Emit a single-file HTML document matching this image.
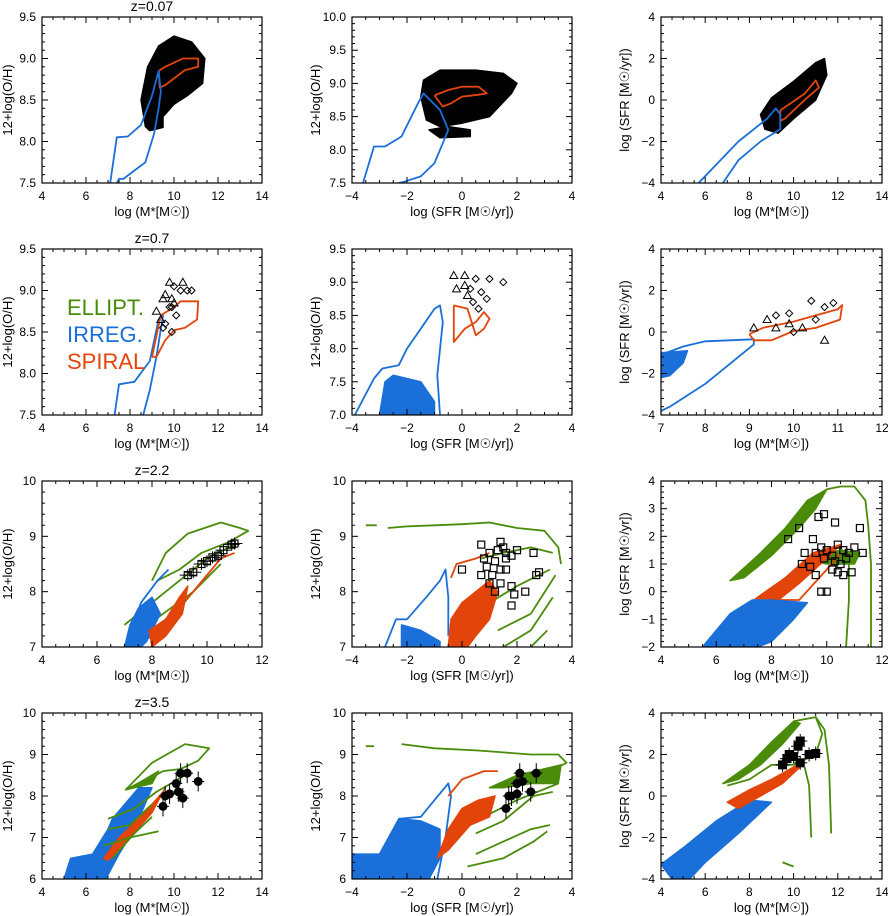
<!DOCTYPE html>
<html><head><meta charset="utf-8"><style>
html,body{margin:0;padding:0;background:#fff;}
svg{display:block;font-family:"Liberation Sans",sans-serif;}
</style></head><body>
<svg id="fig" width="888" height="916" viewBox="0 0 888 916" xmlns="http://www.w3.org/2000/svg"></svg>
<script>
// ===== data (data coordinates) =====
const rangesX = [[4,14],[-4,4],[4,14],[4,14],[-4,4],[7,12],[4,12],[-4,4],[4,12],[4,14],[-4,4],[4,14]];
const rangesY = [[7.5,9.5],[7.5,10],[-4,4],[7.5,9.5],[7,9.5],[-4,4],[7,10],[7,10],[-2,4],[6,10],[6,10],[-4,4]];
const xTicks = [[4,6,8,10,12,14],[-4,-2,0,2,4],[4,6,8,10,12,14],[4,6,8,10,12,14],[-4,-2,0,2,4],[7,8,9,10,11,12],[4,6,8,10,12],[-4,-2,0,2,4],[4,6,8,10,12],[4,6,8,10,12,14],[-4,-2,0,2,4],[4,6,8,10,12,14]];
const yTicks = [[7.5,8.0,8.5,9.0,9.5],[7.5,8.0,8.5,9.0,9.5,10.0],[-4,-2,0,2,4],[7.5,8.0,8.5,9.0,9.5],[7.0,7.5,8.0,8.5,9.0,9.5],[-4,-2,0,2,4],[7,8,9,10],[7,8,9,10],[-2,-1,0,1,2,3,4],[6,7,8,9,10],[6,7,8,9,10],[-4,-2,0,2,4]];
const yDecimals = [1,1,0,1,1,0,0,0,0,0,0,0];
const xTitles = ["log (M*[M\u2609])","log (SFR [M\u2609/yr])","log (M*[M\u2609])","log (M*[M\u2609])","log (SFR [M\u2609/yr])","log (M*[M\u2609])","log (M*[M\u2609])","log (SFR [M\u2609/yr])","log (M*[M\u2609])","log (M*[M\u2609])","log (SFR [M\u2609/yr])","log (M*[M\u2609])"];
const yTitles = ["12+log(O/H)","12+log(O/H)","log (SFR [M\u2609/yr])","12+log(O/H)","12+log(O/H)","log (SFR [M\u2609/yr])","12+log(O/H)","12+log(O/H)","log (SFR [M\u2609/yr])","12+log(O/H)","12+log(O/H)","log (SFR [M\u2609/yr])"];
const redshiftTitles = ["z=0.07","z=0.7","z=2.2","z=3.5"];

const BLK="#000", BLU="#1a6fd8", ORG="#e2440a", GRN="#4a8c0a";
const shapes = [
 [0,'fill',BLK,[[8.7,8.18],[8.5,8.5],[8.8,8.9],[9.3,9.15],[10,9.27],[10.8,9.2],[11.4,9.0],[11.3,8.7],[10.6,8.55],[10,8.45],[9.5,8.3],[9.5,8.17],[8.9,8.13]]],
 [0,'line',ORG,[[9.3,8.85],[9.6,8.9],[10,8.95],[10.4,9.0],[11.1,9.0],[11.1,8.9],[10.5,8.86],[10.0,8.76],[9.6,8.68],[9.35,8.65],[9.3,8.85]]],
 [0,'line',BLU,[[7.1,7.5],[7.4,8.05],[7.9,8.06],[8.5,8.2],[9.0,8.55],[9.3,8.85],[9.4,8.6],[9.3,8.4],[9.1,8.1],[8.7,7.75],[8.2,7.65],[7.7,7.55],[7.5,7.55],[7.4,7.5]]],
 [1,'fill',BLK,[[-1.5,8.8],[-1.3,8.45],[-0.8,8.35],[0,8.4],[1,8.5],[1.8,8.85],[2,9.0],[1.5,9.15],[0.5,9.2],[-0.8,9.2],[-1.4,9.05]]],
 [1,'fill',BLK,[[-1.2,8.3],[-0.8,8.18],[0.3,8.2],[0.3,8.3],[-0.5,8.35]]],
 [1,'line',ORG,[[-1.0,8.82],[-0.5,8.9],[0,8.95],[0.6,8.95],[0.9,8.85],[0.6,8.83],[0,8.8],[-0.4,8.7],[-0.7,8.65],[-1.0,8.82]]],
 [1,'line',BLU,[[-3.6,7.5],[-3.2,8.05],[-2.8,8.05],[-2.2,8.2],[-1.6,8.7],[-1.4,8.85],[-0.8,8.6],[-0.5,8.3],[-0.7,8.1],[-1,7.8],[-1.5,7.6],[-2.1,7.52],[-2.3,7.5]]],
 [2,'fill',BLK,[[8.5,-0.7],[9,0.1],[10,0.9],[11,1.8],[11.4,2.0],[11.5,1.2],[11,0],[10,-0.9],[9.3,-1.6],[8.7,-1.4]]],
 [2,'line',ORG,[[9.4,-1.0],[9.4,-0.5],[10.5,0.3],[11,0.95],[11.15,0.6],[10.6,0.1],[9.6,-0.9],[9.4,-1.0]]],
 [2,'line',BLU,[[5.7,-4],[7.5,-2],[8.8,-0.9],[9.2,-0.4],[9.4,-0.7],[9.4,-1.4],[8.5,-2.0],[7.5,-2.9],[6.8,-4]]],
 [3,'line',BLU,[[7.3,7.5],[7.5,7.87],[8.2,7.9],[8.9,8.15],[9.3,8.65],[9.5,8.7],[9.2,8.2],[8.9,7.8],[8.6,7.5]]],
 [3,'line',ORG,[[9.0,8.2],[9.4,8.7],[10,8.8],[10.3,8.87],[11.1,8.87],[11.05,8.65],[10.5,8.55],[10,8.52],[9.6,8.4],[9.2,8.2],[9.0,8.2]]],
 [4,'fill',BLU,[[-3,7],[-2.8,7.5],[-2.5,7.6],[-1.5,7.5],[-1,7.2],[-1,7.0]]],
 [4,'line',BLU,[[-3.9,7.0],[-3.2,7.55],[-2.9,7.7],[-2.3,7.75],[-2,8.0],[-1.5,8.3],[-1,8.6],[-0.8,8.65],[-0.7,8.4],[-0.9,7.6],[-0.8,7.0]]],
 [4,'line',ORG,[[-0.3,8.65],[-0.3,8.1],[0.1,8.3],[0.5,8.4],[0.8,8.55],[1.0,8.45],[0.8,8.3],[0.5,8.2],[0.2,8.6],[-0.3,8.65]]],
 [5,'fill',BLU,[[7,-1.0],[7.6,-0.9],[7.5,-1.5],[7.2,-2.1],[7,-2.2]]],
 [5,'line',BLU,[[7,-1.1],[7.5,-0.7],[8,-0.45],[9.1,-0.35],[9.1,-0.6],[8,-2.5],[7.2,-3.6],[7,-3.8]]],
 [5,'line',ORG,[[9.0,-0.1],[9.3,0.2],[10,0.5],[10.5,0.8],[11,1.1],[11.1,1.3],[11.05,0.6],[10.5,0.2],[10,0.05],[9.5,-0.4],[9.1,-0.4],[9.0,-0.1]]],
 [6,'line',GRN,[[8,8.2],[8.5,8.7],[9.3,9.05],[10.5,9.25],[11.2,9.15],[11.5,9.1],[10.8,8.9],[9.8,8.7],[9,8.4],[8.2,8.2]]],
 [6,'line',GRN,[[7,7.4],[8,7.8],[9,8.2],[10,8.6],[11,8.85]]],
 [6,'line',GRN,[[7.3,7.2],[8.4,7.6],[9.5,8.0],[10.5,8.5]]],
 [6,'line',GRN,[[7.5,7.05],[8.5,7.35],[9,7.7],[10,8.3]]],
 [6,'fill',BLU,[[7,7],[7.2,7.4],[7.5,7.7],[8,7.9],[8.3,7.6],[7.8,7.1],[7.6,7]]],
 [6,'line',BLU,[[7,7],[7.6,7.8],[8.2,8.2],[8.6,8.4]]],
 [6,'fill',ORG,[[7.9,7.3],[8.5,7.5],[9,7.9],[9.3,8.1],[9.1,7.6],[8.5,7.2],[8,7.0]]],
 [6,'line',ORG,[[8.5,7.5],[9.5,8.0],[10.5,8.6],[11,8.7]]],
 [7,'line',GRN,[[-3.5,9.2],[-3.1,9.2]]],
 [7,'line',GRN,[[-2.7,9.15],[-2,9.18],[-1,9.2],[0,9.22],[1,9.25],[2,9.15],[3,9.1],[3.5,8.8],[3.6,8.5]]],
 [7,'line',GRN,[[0.7,8.6],[1.5,8.7],[2.5,8.8],[3.3,8.7]]],
 [7,'line',GRN,[[1,7.8],[2,8.1],[3.2,8.4]]],
 [7,'line',GRN,[[1.3,7.3],[2.5,7.6],[3.4,8.3]]],
 [7,'line',GRN,[[1.5,7.0],[2.5,7.3],[3.3,7.9]]],
 [7,'line',GRN,[[2.5,7.0],[3.1,7.3]]],
 [7,'fill',BLU,[[-2.2,7],[-2.2,7.4],[-1.5,7.3],[-0.8,7.1],[-0.8,7]]],
 [7,'line',BLU,[[-2.8,7],[-2.4,7.5],[-2,7.5],[-1.3,7.9],[-0.8,8.2],[-0.6,8.4],[-0.5,7.9],[-0.5,7.2]]],
 [7,'line',ORG,[[-0.4,8.25],[-0.2,8.5],[0.5,8.6],[1,8.7]]],
 [7,'fill',ORG,[[-0.5,7],[-0.4,7.5],[0,7.8],[0.5,8.0],[1,8.2],[1.3,8.0],[1,7.5],[0.5,7.2],[0.2,7]]],
 [8,'fill',GRN,[[6.5,0.4],[7.5,1.3],[8.5,2.3],[9.3,3.3],[10,3.7],[9.6,3.0],[9,2.3],[8,1.3],[7,0.5]]],
 [8,'fill',GRN,[[9.5,1.3],[10.5,1.5],[11.2,1.4],[11,1.0],[10,1.0],[9.5,1.1]]],
 [8,'line',GRN,[[10,3.7],[10.5,3.8],[11,3.8],[11.4,3.3],[11.5,2.4],[11.6,1],[11.6,-1.5],[11.6,-2]]],
 [8,'line',GRN,[[10.5,1.6],[10.8,1.0],[10.8,-0.3],[10.7,-2]]],
 [8,'fill',ORG,[[6.6,-0.9],[7.5,-0.2],[8.5,0.5],[9.5,1.4],[10.5,1.7],[10,1.2],[9,0.3],[8,-0.5],[7.2,-1.0]]],
 [8,'line',ORG,[[8,-0.3],[9,-0.3],[10,0.8],[10.5,1.4]]],
 [8,'fill',BLU,[[5.5,-2],[6.5,-0.8],[7.3,-0.3],[8,-0.3],[9.3,-0.4],[8.8,-1],[8,-1.8],[7.5,-2]]],
 [9,'line',GRN,[[7.8,8.15],[9,8.8],[10.5,9.25],[11.6,9.15],[11.1,8.85],[10.3,8.65],[9.5,8.6],[8.5,8.3],[7.8,8.15]]],
 [9,'fill',GRN,[[7.8,8.15],[8.5,8.35],[9.3,8.6],[9,8.3]]],
 [9,'fill',BLU,[[5,6],[5.3,6.5],[6.3,6.6],[7,7.2],[7.2,7.45],[8.4,8.2],[9,8.2],[8.2,7.2],[7.5,6.6],[6.9,6]]],
 [9,'fill',ORG,[[6.8,6.5],[7.5,7.0],[8.5,7.5],[9.5,8.1],[9.6,8.2],[9,7.6],[8,7.0],[7,6.45]]],
 [9,'line',GRN,[[7,7.45],[8.2,7.7],[9.2,8.1],[10.5,8.5]]],
 [9,'line',GRN,[[7,7.2],[8,7.3],[9,7.8]]],
 [9,'line',GRN,[[6.8,6.8],[8,7.0],[9.3,7.15]]],
 [9,'line',GRN,[[7.2,6.5],[8.2,7.1],[9,7.5]]],
 [10,'line',GRN,[[-3.5,9.2],[-3.2,9.2]]],
 [10,'line',GRN,[[-2.2,9.25],[-1,9.15],[0.5,9.1],[1.5,9.05],[2.5,9.0],[3.5,9.0],[3.8,8.8],[3.5,8.7]]],
 [10,'fill',GRN,[[1,8.2],[2,8.5],[3.6,8.75],[3.5,8.3],[2.5,8.3],[1.5,8.2]]],
 [10,'line',GRN,[[0.8,7.5],[2,7.9],[3.5,8.3]]],
 [10,'line',GRN,[[0.5,7.1],[1.5,7.4],[2.6,8.0],[3.3,8.1]]],
 [10,'line',GRN,[[0.5,6.6],[1.5,6.9],[2.5,7.2],[3.2,7.3]]],
 [10,'line',GRN,[[0.2,6.3],[1.5,6.5],[2.6,6.9],[3.1,7.15]]],
 [10,'fill',BLU,[[-4,6],[-4,6.6],[-3,6.6],[-2.3,7.45],[-1.5,7.4],[-0.8,7.2],[-0.8,6.5],[-1.2,6.0]]],
 [10,'line',BLU,[[-2.3,7.45],[-1.5,7.5],[-1,7.9],[-0.5,8.3],[-0.4,8.0],[-0.6,7.0],[-0.9,6.0]]],
 [10,'fill',ORG,[[-0.9,6.5],[-0.5,7.2],[0,7.7],[0.6,7.9],[1.2,8.0],[1,7.5],[0.3,7.3],[-0.5,6.7]]],
 [10,'line',ORG,[[-0.5,8.0],[0,8.4],[0.8,8.6],[1.3,8.6]]],
 [11,'fill',BLU,[[4,-3.3],[5,-2.5],[6.5,-1.2],[8,-0.2],[9,-0.3],[7.5,-1.8],[6,-3.2],[5.3,-4],[4.5,-4]]],
 [11,'fill',ORG,[[7,-0.3],[8,0.3],[9,0.8],[10,1.4],[10.5,1.6],[9.5,0.6],[8.5,0],[7.5,-0.6]]],
 [11,'fill',GRN,[[6.8,0.6],[8,1.5],[9,2.6],[10,3.6],[10.3,3.5],[9.5,2.5],[8.5,1.5],[7.5,0.8]]],
 [11,'line',GRN,[[10,3.6],[11,3.8],[11.3,3],[11,2],[10,1.5],[9,1.5],[8,0.8],[7,0.5]]],
 [11,'line',GRN,[[11,3.8],[11.4,3.2],[11.6,1.5],[11.7,-1.8]]],
 [11,'line',GRN,[[10.5,1.4],[10.7,0.5],[10.8,-2]]],
 [11,'line',GRN,[[9.5,-3.2],[10,-3.4]]]
];

const triPts = {3:[[9.2,8.75],[9.8,9.1],[10.4,9.1],[9.6,8.95],[9.9,8.9],[10.0,8.85],[9.5,8.9],[9.4,8.65]],4:[[-0.3,9.1],[0.1,9.1],[-0.2,8.9],[0.1,8.95],[0.2,8.8]],5:[[9.1,0.2],[9.4,0.6],[9.6,0.2],[9.9,0.4],[10.2,0.2],[10.7,-0.4]]};
const diaPts = {3:[[10.0,9.05],[10.3,9.0],[10.6,9.0],[9.9,8.8],[10.1,8.7],[9.6,8.6],[10.8,9.0],[9.8,8.8],[9.5,8.55],[9.9,8.5]],4:[[0.5,9.05],[1,9.05],[1.5,9.0],[0.3,8.9],[0.7,8.85],[0.6,8.6],[0.9,8.75],[0.4,8.7]],5:[[9.6,0.8],[9.9,0.9],[10.4,1.5],[10.7,1.2],[10.5,0.6],[10.0,0.0],[10.9,1.4]]};
const sqPts = {6:[[9.3,8.3],[9.5,8.35],[9.8,8.5],[10.0,8.55],[10.2,8.62],[10.4,8.65],[10.6,8.75],[10.9,8.85],[11.0,8.87]],
 7:[[0.7,8.85],[0.8,8.6],[1.0,8.7],[1.2,8.55],[1.4,8.9],[1.5,8.8],[1.6,8.7],[1.8,8.65],[1.4,8.4],[1.1,8.3],[0.9,8.45],[0.7,8.3],[1.6,8.4],[2.0,8.75],[2.6,8.7],[2.8,8.35],[1.0,8.15],[1.4,8.15],[1.8,8.1],[2.3,8.0],[1.9,7.95],[1.8,7.75],[2.7,8.3],[0.0,8.4],[1.2,8.0],[1.6,8.6],[1.3,8.75]],
 8:[[8.6,1.9],[9.0,2.3],[9.5,1.9],[9.7,2.7],[9.9,2.8],[10.3,2.5],[11.2,2.3],[9.2,1.4],[9.6,1.4],[9.8,1.6],[10.0,1.5],[10.2,1.3],[10.4,1.7],[10.6,1.5],[10.8,1.4],[11.0,1.6],[11.3,1.4],[9.1,1.0],[9.4,0.9],[9.6,0.6],[10.2,0.8],[10.4,0.7],[10.6,0.6],[10.9,0.7],[9.8,0.0],[10.0,0.0],[10.5,1.0],[10.7,1.2],[9.9,1.2],[10.3,1.1]]};
const circPts = {9:[[9.5,7.75],[9.6,8.0],[9.8,8.05],[10.1,8.3],[10.3,8.55],[10.6,8.55],[11.1,8.35],[10.2,8.1],[10.4,7.95]],10:[[1.6,7.7],[1.7,8.0],[1.8,8.0],[2.0,8.3],[2.1,8.55],[2.0,8.05],[2.2,8.35],[2.5,8.1],[2.7,8.55]]};
const sqfPts = {11:[[9.5,1.5],[9.7,1.8],[9.8,2.0],[10.0,1.9],[10.2,2.4],[10.3,2.65],[10.3,1.6],[10.7,2.0],[11.0,2.05]]};

// ===== layout =====
const colL=[42,352,661], colW=[220,220,221], rowT=[17,249,481,713], H=166;
const svg=document.getElementById('fig');
const NS="http://www.w3.org/2000/svg";
function mk(tag,attrs,parent){const e=document.createElementNS(NS,tag);for(const k in attrs)e.setAttribute(k,attrs[k]);(parent||svg).appendChild(e);return e;}
function fmt(v,d){let s=v.toFixed(d);return s.replace('-','\u2212');}

const defs=mk('defs',{});
for(let p=0;p<12;p++){
  const r=Math.floor(p/3), c=p%3;
  const x0=colL[c], y0=rowT[r], W=colW[c];
  const [xa,xb]=rangesX[p], [ya,yb]=rangesY[p];
  const sx=v=>x0+(v-xa)/(xb-xa)*W;
  const sy=v=>y0+H-(v-ya)/(yb-ya)*H;
  const g=mk('g',{});
  
  
  const cp=mk('clipPath',{id:'clip'+p},defs);
  mk('rect',{x:x0,y:y0,width:W,height:H},cp);
  const plot=mk('g',{'clip-path':'url(#clip'+p+')'},g);
  
  
  shapes.filter(s=>s[0]===p).forEach(s=>{
    const pts=s[3].map(q=>sx(q[0]).toFixed(1)+','+sy(q[1]).toFixed(1)).join(' ');
    let el;
    if(s[1]==='fill') el=mk('polygon',{points:pts,fill:s[2],stroke:s[2],'stroke-width':1.5,'stroke-linejoin':'round'},plot);
    else el=mk('polyline',{points:pts,fill:'none',stroke:s[2],'stroke-width':1.8,'stroke-linejoin':'round'},plot);
    
    
  });
  (triPts[p]||[]).forEach(q=>{const X=sx(q[0]),Y=sy(q[1]);
    const el=mk('polygon',{points:`${X},${Y-4} ${X-4},${Y+3} ${X+4},${Y+3}`,fill:'none',stroke:'#000','stroke-width':1},plot);
    
    });
  (diaPts[p]||[]).forEach(q=>{const X=sx(q[0]),Y=sy(q[1]);
    const el=mk('polygon',{points:`${X},${Y-3.5} ${X+3.5},${Y} ${X},${Y+3.5} ${X-3.5},${Y}`,fill:'none',stroke:'#000','stroke-width':1},plot);
    
    });
  (sqPts[p]||[]).forEach(q=>{const X=sx(q[0]),Y=sy(q[1]);
    if(p===6){mk('line',{x1:X-8,y1:Y,x2:X+8,y2:Y,stroke:'#000'},plot);mk('line',{x1:X,y1:Y-6,x2:X,y2:Y+6,stroke:'#000'},plot);}
    const el=mk('rect',{x:X-3.5,y:Y-3.5,width:7,height:7,fill:'none',stroke:'#000','stroke-width':1.2},plot);
    
    });
  (circPts[p]||[]).forEach(q=>{const X=sx(q[0]),Y=sy(q[1]);
    mk('line',{x1:X-6,y1:Y,x2:X+6,y2:Y,stroke:'#000'},plot);mk('line',{x1:X,y1:Y-10,x2:X,y2:Y+10,stroke:'#000'},plot);
    const el=mk('circle',{cx:X,cy:Y,r:4.5,fill:'#000'},plot);
    
    });
  (sqfPts[p]||[]).forEach(q=>{const X=sx(q[0]),Y=sy(q[1]);
    mk('line',{x1:X-7,y1:Y,x2:X+7,y2:Y,stroke:'#000'},plot);mk('line',{x1:X,y1:Y-7,x2:X,y2:Y+7,stroke:'#000'},plot);
    const el=mk('rect',{x:X-4.5,y:Y-4.5,width:9,height:9,fill:'#000'},plot);
    
    });
  const fr=mk('rect',{x:x0,y:y0,width:W,height:H,fill:'none',stroke:'#000','stroke-width':1.2},g);
  
  
  const xt=xTicks[p], stepX=(xt[1]-xt[0])/ (xb-xa>6?4:5);
  for(let v=xa;v<=xb+1e-9;v+=stepX){const X=sx(v);const major=xt.some(t=>Math.abs(t-v)<1e-6);const L=major?6:3;
    mk('line',{x1:X,y1:y0+H,x2:X,y2:y0+H-L,stroke:'#000'},g);mk('line',{x1:X,y1:y0,x2:X,y2:y0+L,stroke:'#000'},g);}
  xt.forEach(v=>{const t=mk('text',{x:sx(v),y:y0+H+17,'font-size':12,'text-anchor':'middle'},g);t.textContent=fmt(v,0);
    
    });
  const yt=yTicks[p], stepY=(yt[1]-yt[0])/5;
  for(let v=ya;v<=yb+1e-9;v+=stepY){const Y=sy(v);const major=yt.some(t=>Math.abs(t-v)<1e-6);const L=major?6:3;
    mk('line',{x1:x0,y1:Y,x2:x0+L,y2:Y,stroke:'#000'},g);mk('line',{x1:x0+W,y1:Y,x2:x0+W-L,y2:Y,stroke:'#000'},g);}
  yt.forEach(v=>{const t=mk('text',{x:x0-6,y:sy(v)+4,'font-size':12,'text-anchor':'end'},g);t.textContent=fmt(v,yDecimals[p]);
    
    });
  const xtl=mk('text',{x:x0+W/2,y:y0+H+33,'font-size':13,'text-anchor':'middle'},g);xtl.textContent=xTitles[p];
  
  
  const yx=x0-(c===0?30:32), ym=y0+H/2;
  const ytl=mk('text',{x:yx,y:ym,'font-size':13,'text-anchor':'middle',transform:`rotate(-90 ${yx} ${ym})`},g);ytl.textContent=yTitles[p];
  
  
  if(c===0){const tt=mk('text',{x:x0+W/2,y:y0-6,'font-size':14,'text-anchor':'middle'},g);tt.textContent=redshiftTitles[r];
    
    }
}
const legTexts=[["ELLIPT.",GRN,315],["IRREG.",BLU,342],["SPIRAL",ORG,369]];
legTexts.forEach(l=>{const t=mk('text',{x:67,y:l[2],'font-size':22,fill:l[1]});t.textContent=l[0];
  
  });
</script>
</body></html>
